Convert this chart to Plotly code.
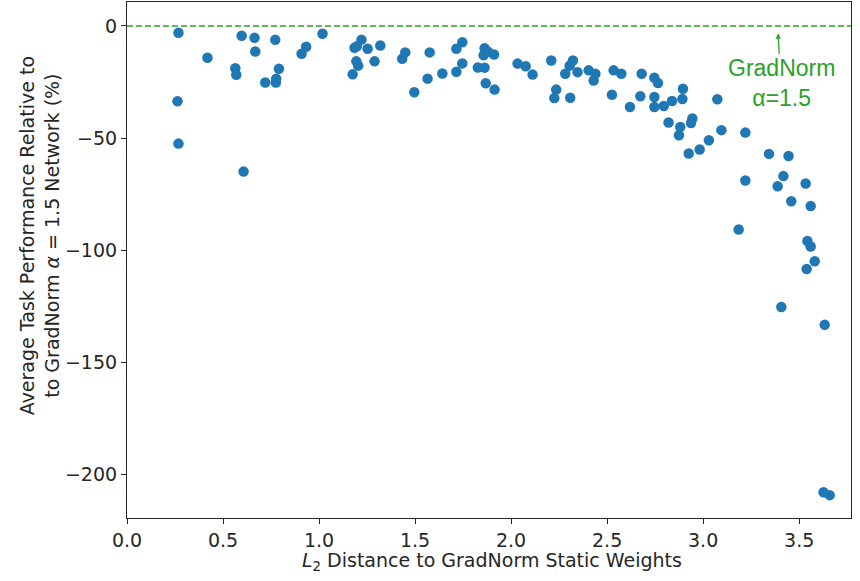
import plotly.graph_objects as go

# L2 distance to GradNorm static weights
x_vals = [0.268, 0.419, 0.263, 0.268, 0.607, 0.564, 0.569, 0.597, 0.664, 0.668,
          0.772, 0.720, 0.775, 0.777, 0.791, 0.909, 0.933, 1.018, 1.175, 1.185,
          1.197, 1.221, 1.194, 1.204, 1.253, 1.289, 1.319, 1.433, 1.449, 1.496,
          1.576, 1.565, 1.642, 1.715, 1.746, 1.746, 1.715, 1.827, 1.862, 1.857,
          1.862, 1.868, 1.911, 1.914, 1.880,
          2.034, 2.076, 2.112, 2.209, 2.235, 2.225, 2.308, 2.322, 2.305, 2.282,
          2.346, 2.404, 2.439, 2.430, 2.534, 2.574, 2.525, 2.619, 2.680, 2.673,
          2.746, 2.765, 2.746, 2.746, 2.795, 2.838, 2.895, 2.892, 2.820, 2.881,
          2.874, 2.944, 2.937, 2.925, 2.982, 3.030, 3.095, 3.074, 3.220, 3.343,
          3.445, 3.220, 3.418, 3.388, 3.534, 3.459, 3.560, 3.185, 3.543, 3.560,
          3.581, 3.539, 3.407, 3.633, 3.627, 3.659]
# Average task performance relative to GradNorm alpha=1.5 network (%)
y_vals = [-3.0, -14.2, -33.6, -52.5, -65.0, -18.9, -21.8, -4.4, -5.3, -11.4,
          -6.2, -25.2, -25.2, -23.5, -19.1, -12.4, -9.3, -3.5, -21.6, -9.7,
          -9.1, -6.1, -15.8, -17.7, -10.2, -15.8, -8.7, -14.6, -11.8, -29.6,
          -11.8, -23.5, -21.2, -10.2, -7.3, -16.7, -20.4, -18.5, -9.9, -13.1,
          -18.6, -25.6, -12.7, -28.4, -11.5,
          -16.8, -18.0, -21.7, -15.4, -28.4, -32.2, -32.0, -15.4, -17.7, -21.3,
          -20.6, -19.8, -21.3, -24.3, -19.8, -21.3, -30.7, -36.2, -21.3, -31.4,
          -23.1, -25.5, -31.7, -36.2, -35.7, -33.5, -28.0, -32.6, -43.1, -45.1,
          -48.8, -41.3, -43.3, -56.9, -55.1, -51.0, -46.5, -32.7, -47.6, -57.1,
          -58.0, -69.0, -67.0, -71.5, -70.3, -78.2, -80.4, -90.8, -96.0, -98.4,
          -105.0, -108.5, -125.4, -133.4, -208.1, -209.4]

x_ticks = [0.0, 0.5, 1.0, 1.5, 2.0, 2.5, 3.0, 3.5]
y_ticks = [0, -50, -100, -150, -200]
x_range = [0.0, 3.77]
y_range = [-219.6, 10.7]

fig = go.Figure()
fig.add_trace(go.Scatter(
    x=x_vals, y=y_vals, mode="markers",
    marker=dict(color="#1f77b4", size=10.5, line=dict(width=0)),
    showlegend=False, cliponaxis=False,
))
# reference line at 0
fig.add_shape(type="line", xref="paper", yref="y", x0=0, x1=1, y0=0, y1=0,
              line=dict(color="#2ca02c", width=1.5, dash="6px,3px"))

fig.add_annotation(
    x=3.39, y=-3.3, xref="x", yref="y",
    text="GradNorm<br>α=1.5", showarrow=True,
    ax=3, ay=50, arrowhead=2, arrowsize=0.8, arrowwidth=1.3,
    arrowcolor="#2ca02c", standoff=0,
    font=dict(family="Liberation Sans", size=23, color="#2ca02c"),
    align="center",
)
fig.add_annotation(
    xref="paper", yref="paper", x=-0.1212, y=0.5465,
    text="Average Task Performance Relative to<br>to GradNorm <i>α</i> = 1.5 Network (%)",
    showarrow=False, textangle=-90, xanchor="center", yanchor="middle",
    font=dict(family="DejaVu Sans", size=19, color="#262626"),
)
fig.add_annotation(
    xref="paper", yref="paper", x=0.5035, y=-0.0834,
    text="<i>L</i><sub>2</sub> Distance to GradNorm Static Weights",
    showarrow=False, xanchor="center", yanchor="middle",
    font=dict(family="DejaVu Sans", size=19, color="#262626"),
)

axis_common = dict(
    showgrid=False, zeroline=False, showline=True, linecolor="#262626",
    linewidth=1.2, mirror=True, ticks="outside", ticklen=5, tickwidth=1.2,
    tickcolor="#262626", tickfont=dict(family="DejaVu Sans", size=19, color="#262626"),
)
fig.update_xaxes(range=x_range, tickvals=x_ticks,
                 ticktext=[f"{v:.1f}" for v in x_ticks], **axis_common)
fig.update_yaxes(range=y_range, tickvals=y_ticks, **axis_common)

fig.update_layout(
    width=860, height=581,
    margin=dict(l=127, r=9, t=2, b=63, autoexpand=False),
    plot_bgcolor="white", paper_bgcolor="white",
)
fig.write_html("out.html", config={"displayModeBar": False},
               post_script="document.body.style.margin='0px';document.body.style.overflow='hidden';")
